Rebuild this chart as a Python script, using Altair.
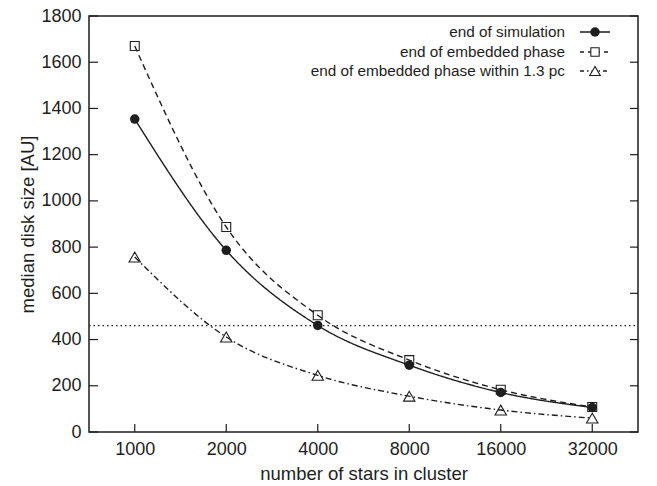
import altair as alt
import pandas as pd

# ---- data ----
stars = [1000, 2000, 4000, 8000, 16000, 32000]
end_sim = [1354, 786, 461, 289, 171, 106]
end_emb = [1670, 887, 505, 311, 183, 108]
end_emb_13 = [757, 411, 245, 155, 95, 60]
y_ticks = [0, 200, 400, 600, 800, 1000, 1200, 1400, 1600, 1800]
ref_level = [460]
series_names = ["end of simulation", "end of embedded phase", "end of embedded phase within 1.3 pc"]

W, H = 549, 416
FONT = "Liberation Sans"
INK = "#1e1e1e"

rows = []
for name, vals in zip(series_names, [end_sim, end_emb, end_emb_13]):
    for n, v in zip(stars, vals):
        rows.append({"N": n, "size": v, "series": name})
df = pd.DataFrame(rows)

xscale = alt.Scale(type="log", base=2, domain=[1000 / 2 ** 0.5, 32000 * 2 ** 0.5], nice=False)
yscale = alt.Scale(domain=[0, 1800], nice=False)

dash_scale = alt.Scale(domain=series_names, range=[[1, 0], [6, 4], [6, 3, 1.5, 3]])

x_enc = alt.X("N:Q", scale=xscale,
              axis=alt.Axis(values=stars, format="d", title="number of stars in cluster",
                            grid=False, ticks=False, tickSize=0, domain=False,
                            labelFontSize=18, labelPadding=8, labelFont=FONT, labelColor=INK,
                            titleFontSize=18.5, titleFont=FONT, titleFontWeight="normal",
                            titleColor=INK, titlePadding=6))
y_enc = alt.Y("size:Q", scale=yscale,
              axis=alt.Axis(values=y_ticks, format="d", title="median disk size [AU]",
                            grid=False, ticks=False, tickSize=0, domain=False,
                            labelFontSize=18, labelPadding=8, labelFont=FONT, labelColor=INK,
                            titleFontSize=18.5, titleFont=FONT, titleFontWeight="normal",
                            titleColor=INK, titlePadding=3))

base = alt.Chart(df)

lines = base.mark_line(interpolate="monotone", strokeWidth=1.4, color=INK).encode(
    x=x_enc, y=y_enc,
    strokeDash=alt.StrokeDash("series:N", scale=dash_scale, legend=None),
    detail="series:N",
)

filled_pts = base.transform_filter(alt.datum.series == series_names[0]).mark_point(
    shape="circle", filled=True, size=90, color=INK, opacity=1
).encode(x="N:Q", y="size:Q")

open_sq = base.transform_filter(alt.datum.series == series_names[1]).mark_point(
    shape="square", filled=False, size=80, color=INK, strokeWidth=1.1, opacity=1
).encode(x="N:Q", y="size:Q")

open_tri = base.transform_filter(alt.datum.series == series_names[2]).mark_point(
    shape="triangle-up", filled=False, size=130, color=INK, strokeWidth=1.1, opacity=1
).encode(x="N:Q", y="size:Q")

# dotted reference level
ref = alt.Chart(pd.DataFrame({"level": ref_level})).mark_rule(
    strokeDash=[1.5, 3], strokeWidth=1.3, color=INK
).encode(y=alt.Y("level:Q", scale=yscale), x=alt.value(0), x2=alt.value(W))

# inward ticks
ytick_df = pd.DataFrame({"t": y_ticks})
left_ticks = alt.Chart(ytick_df).mark_rule(color=INK, strokeWidth=1.2).encode(
    y=alt.Y("t:Q", scale=yscale), x=alt.value(0), x2=alt.value(9))
right_ticks = alt.Chart(ytick_df).mark_rule(color=INK, strokeWidth=1.2).encode(
    y=alt.Y("t:Q", scale=yscale), x=alt.value(W - 8), x2=alt.value(W))
xtick_df = pd.DataFrame({"t": stars})
bottom_ticks = alt.Chart(xtick_df).mark_rule(color=INK, strokeWidth=1.2).encode(
    x=alt.X("t:Q", scale=xscale), y=alt.value(H), y2=alt.value(H - 8))

# legend (top right, labels on the left of the samples)
leg_y = [16, 36, 55]
leg_df = pd.DataFrame({"series": series_names, "ly": leg_y})
legend_layers = []
leg_text = alt.Chart(leg_df).mark_text(
    align="right", baseline="middle", fontSize=15.3, font=FONT, color=INK
).encode(text="series:N", x=alt.value(476), y=alt.Y("ly:Q", scale=None))
legend_layers.append(leg_text)
dashes = [[1, 0], [4, 4], [4, 3, 1.5, 3]]
for i, name in enumerate(series_names):
    sub = leg_df[leg_df.series == name]
    legend_layers.append(
        alt.Chart(sub).mark_rule(color=INK, strokeWidth=1.4, strokeDash=dashes[i]).encode(
            x=alt.value(491), x2=alt.value(521), y=alt.Y("ly:Q", scale=None))
    )
legend_layers.append(
    alt.Chart(leg_df[leg_df.series == series_names[0]]).mark_point(
        shape="circle", filled=True, size=90, color=INK, opacity=1
    ).encode(x=alt.value(506), y=alt.Y("ly:Q", scale=None))
)
legend_layers.append(
    alt.Chart(leg_df[leg_df.series == series_names[1]]).mark_point(
        shape="square", filled=True, size=70, fill="white", stroke=INK, strokeWidth=1.1, opacity=1
    ).encode(x=alt.value(506), y=alt.Y("ly:Q", scale=None))
)
legend_layers.append(
    alt.Chart(leg_df[leg_df.series == series_names[2]]).mark_point(
        shape="triangle-up", filled=True, size=110, fill="white", stroke=INK, strokeWidth=1.1, opacity=1
    ).encode(x=alt.value(506), y=alt.Y("ly:Q", scale=None))
)

chart = alt.layer(
    ref, lines, filled_pts, open_sq, open_tri, left_ticks, right_ticks, bottom_ticks, *legend_layers
).properties(
    width=W, height=H,
    autosize=alt.AutoSizeParams(type="none"),
    padding={"left": 89, "top": 16, "right": 19, "bottom": 54},
    background="white",
).configure_view(stroke=INK, strokeWidth=1.5)

chart.save("out.html", embed_options={"renderer": "svg", "actions": False})
